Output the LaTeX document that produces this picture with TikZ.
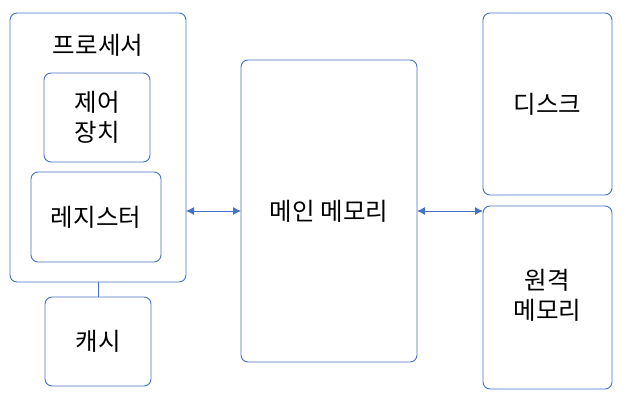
\documentclass[tikz,border=0pt]{standalone}
\usepackage{fontspec}
\setmainfont{Noto Sans CJK KR}
\usetikzlibrary{arrows.meta}
\definecolor{bl}{HTML}{4472C4}
\tikzset{
  box/.style={draw=bl, line width=0.9pt, rounded corners=7pt, fill=white},
  lbl/.style={font=\fontsize{24.5}{30}\selectfont, align=center, text=black},
  conn/.style={draw=bl, line width=0.9pt},
  arr/.style={conn, {Latex[length=8pt,width=8pt]}-{Latex[length=8pt,width=8pt]}}
}
\begin{document}
\begin{tikzpicture}[x=1pt,y=-1pt]
\useasboundingbox (0,0) rectangle (626,405);
% boxes
\draw[box] (10,13) rectangle (186,282);
\node[lbl] (proc) at (98,45) {프로세서};
\coordinate (procR) at (186,211);
\coordinate (procB) at (98,282);
\draw[box] (44,73) rectangle (150,162);
\node[lbl] (ctrl) at (97,117.5) {제어\\장치};
\draw[box] (31,172) rectangle (161,262);
\node[lbl] (reg) at (96,217) {레지스터};
\draw[box] (45,297) rectangle (151,386);
\node[lbl] (cache) at (98,341.5) {캐시};
\coordinate (cacheT) at (98,297);
\draw[box] (241,60) rectangle (417,362);
\node[lbl] (mem) at (329,211) {메인 메모리};
\coordinate (memL) at (241,211);
\coordinate (memR) at (417,211);
\draw[box] (483,13) rectangle (612,195);
\node[lbl] (disk) at (547.5,104) {디스크};
\draw[box] (483,206) rectangle (612,389);
\node[lbl] (remote) at (547.5,295) {원격\\메모리};
\coordinate (remL) at (483,211);
% connectors
\draw[conn] (procB) -- (cacheT);
\draw[arr] (procR) -- (memL);
\draw[arr] (memR) -- (remL);
\end{tikzpicture}
\end{document}
